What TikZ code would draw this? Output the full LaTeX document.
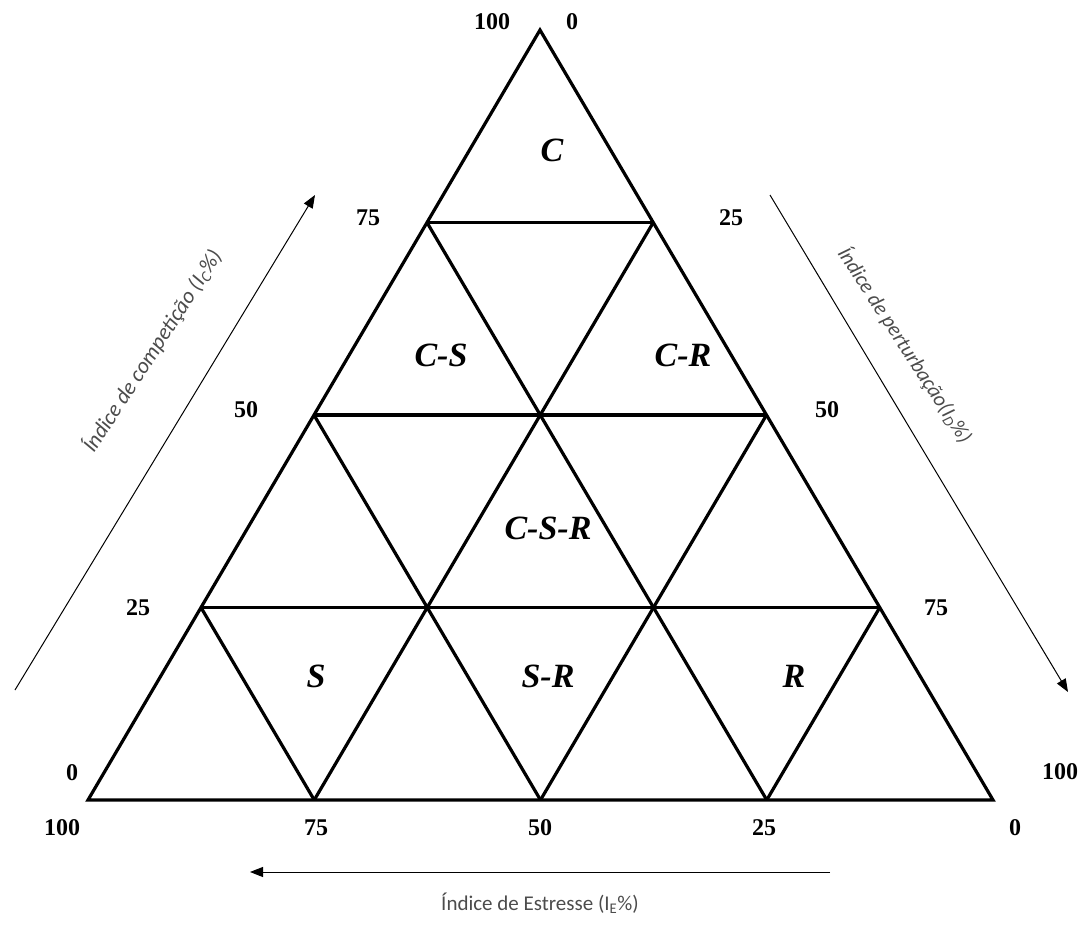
\documentclass[tikz,border=0pt]{standalone}
\usepackage{fontspec}
\setmainfont{Liberation Serif}
\newfontfamily\axisfont{Carlito}
\usetikzlibrary{arrows.meta,calc}

\begin{document}
\begin{tikzpicture}[
    x=1pt, y=-1pt,
    every node/.style={inner sep=1pt},
    num/.style={font=\bfseries\fontsize{24}{24}\selectfont},
    zone/.style={font=\bfseries\itshape\fontsize{34}{34}\selectfont},
    gridline/.style={line width=3.2pt, line join=miter},
    axisarrow/.style={-{Triangle[length=13pt,width=10pt]}, line width=1pt},
    axistext/.style={font=\axisfont\fontsize{21}{21}\selectfont, text=black!70}
]
\useasboundingbox (0,0) rectangle (1085,928);

% Corners of the triangle
\coordinate (top) at (540,30);
\coordinate (bl)  at (88,800);
\coordinate (br)  at (993,800);

% Quarter points on the three sides
\coordinate (l75) at ($(bl)!0.75!(top)$);
\coordinate (l50) at ($(bl)!0.50!(top)$);
\coordinate (l25) at ($(bl)!0.25!(top)$);
\coordinate (r25) at ($(top)!0.25!(br)$);
\coordinate (r50) at ($(top)!0.50!(br)$);
\coordinate (r75) at ($(top)!0.75!(br)$);
\coordinate (b75) at ($(bl)!0.25!(br)$);
\coordinate (b50) at ($(bl)!0.50!(br)$);
\coordinate (b25) at ($(bl)!0.75!(br)$);

% Outline and grid
\draw[gridline] (top) -- (bl) -- (br) -- cycle;
\draw[gridline] (l75) -- (r25);
\draw[gridline] (l50) -- (r50);
\draw[gridline] (l25) -- (r75);
\draw[gridline] (b75) -- (r25);
\draw[gridline] (b50) -- (r50);
\draw[gridline] (b25) -- (r75);
\draw[gridline] (b75) -- (l25);
\draw[gridline] (b50) -- (l50);
\draw[gridline] (b25) -- (l75);

% Strategy zones
\node[zone] (zC)   at (552,150) {C};
\node[zone] (zCS)  at (441,355) {C-S};
\node[zone] (zCR)  at (683,355) {C-R};
\node[zone] (zCSR) at (548,528) {C-S-R};
\node[zone] (zS)   at (316,676) {S};
\node[zone] (zSR)  at (548,676) {S-R};
\node[zone] (zR)   at (794,676) {R};

% Scale values
\node[num] (top100) at (492,22)  {100};
\node[num] (top0)   at (572,22)  {0};
\node[num] (left75) at (368,218) {75};
\node[num] (rgt25)  at (731,218) {25};
\node[num] (left50) at (246,410) {50};
\node[num] (rgt50)  at (827,410) {50};
\node[num] (left25) at (138,608) {25};
\node[num] (rgt75)  at (936,608) {75};
\node[num] (left0)  at (72,773)  {0};
\node[num] (rgt100) at (1060,772) {100};
\node[num] (bot100) at (62,828)  {100};
\node[num] (bot75)  at (316,828) {75};
\node[num] (bot50)  at (540,828) {50};
\node[num] (bot25)  at (764,828) {25};
\node[num] (bot0)   at (1015,828) {0};

% Axis arrows
\coordinate (icA) at (15,690);
\coordinate (icB) at (315,195);
\coordinate (idA) at (770,195);
\coordinate (idB) at (1068,692);
\coordinate (ieA) at (830,872);
\coordinate (ieB) at (250,872);

\draw[axisarrow] (icA) -- (icB);
\draw[axisarrow] (idA) -- (idB);
\draw[axisarrow] (ieA) -- (ieB);

\node[axistext, font=\axisfont\itshape\fontsize{22}{22}\selectfont, rotate=57]
    (ic) at (152,351) {Índice de competição (I\textsubscript{C}\%)};
\node[axistext, font=\axisfont\itshape\fontsize{21}{21}\selectfont, rotate=-57]
    (id) at (905,345) {Índice de perturbação(I\textsubscript{D}\%)};
\node[axistext] (ie) at (540,903) {Índice de Estresse (I\textsubscript{E}\%)};

\end{tikzpicture}
\end{document}
